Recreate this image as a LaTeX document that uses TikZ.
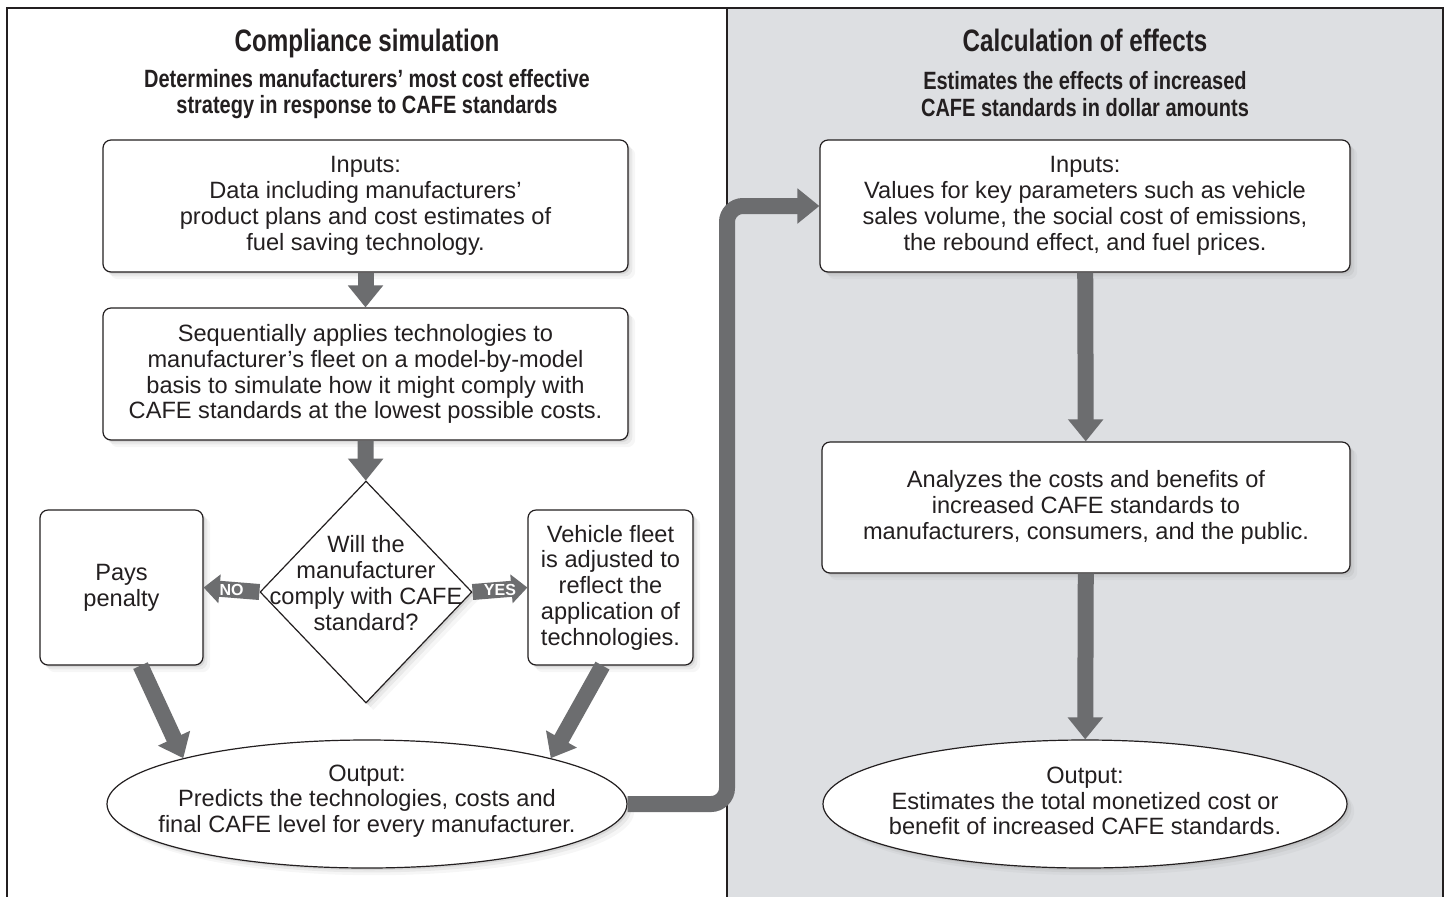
\documentclass[tikz,border=0pt]{standalone}
\usepackage{fontspec}
\setmainfont{Liberation Sans}
\newfontfamily\headfont[FakeStretch=0.8]{Liberation Sans}
\newfontfamily\titlefont[FakeStretch=0.78]{Liberation Sans}
\usetikzlibrary{arrows.meta,shapes.geometric,shadows}

\definecolor{panelgray}{RGB}{221,223,226}
\definecolor{arrowgray}{RGB}{108,109,111}
\definecolor{inkgray}{RGB}{35,31,32}
\newcommand{\bodysize}{\fontsize{11.8}{12.9}\selectfont}

\tikzset{
  softshadow/.style={drop shadow={shadow xshift=1pt,shadow yshift=-1pt,opacity=.16},
    drop shadow={shadow xshift=2.2pt,shadow yshift=-2.2pt,opacity=.11},
    drop shadow={shadow xshift=3.6pt,shadow yshift=-3.6pt,opacity=.07}},
  stepbox/.style={draw=inkgray, line width=.6pt, fill=white, rounded corners=4pt,
    align=center, font=\bodysize, text=inkgray, inner sep=0pt, softshadow},
  decision/.style={diamond, draw=inkgray, line width=.6pt, fill=white, inner sep=0pt,
    minimum width=106pt, minimum height=111pt, softshadow},
  outcome/.style={ellipse, draw=inkgray, line width=.6pt, fill=white, inner sep=0pt,
    minimum height=64pt, softshadow},
  textonly/.style={align=center, font=\bodysize, text=inkgray, inner sep=0pt},
  bigarrow/.style={draw=arrowgray, line width=8pt, -{Triangle[width=17pt,length=11pt]}},
  tagarrow/.style={draw=arrowgray, line width=8pt, -{Triangle[width=14pt,length=8pt]}},
  tag/.style={text=white, font=\fontsize{8}{9}\selectfont\bfseries, inner sep=0pt},
  paneltitle/.style={anchor=base, text=inkgray, font=\titlefont\bfseries\fontsize{15.5}{17}\selectfont},
  panelsub/.style={align=center, text=inkgray, inner sep=0pt, font=\headfont\bfseries\fontsize{12.5}{13.2}\selectfont}
}

\begin{document}
\begin{tikzpicture}[x=0.5pt, y=-0.5pt]
\useasboundingbox (0,0) rectangle (1447,896);
\fill[white] (0,0) rectangle (1447,896);

% panels
\fill[panelgray] (727,8) rectangle (1443,900);
\draw[inkgray, line width=1pt] (7,900) -- (7,8) -- (1443,8) -- (1443,900);
\draw[inkgray, line width=.7pt] (727,8) -- (727,900);

% left panel: compliance simulation
\node[paneltitle] (lefttitle) at (367,51) {Compliance simulation};
\node[panelsub] (leftsub) at (367,94) {Determines manufacturers’ most cost effective\\strategy in response to CAFE standards};

\node[stepbox, minimum width=262.5pt, minimum height=66pt] (in1) at (365.5,206)
  {Inputs:\\Data including manufacturers’\\product plans and cost estimates of\\fuel saving technology.};
\node[stepbox, minimum width=262.5pt, minimum height=66pt] (seq) at (365.5,374)
  {Sequentially applies technologies to\\manufacturer’s fleet on a model-by-model\\basis to simulate how it might comply with\\CAFE standards at the lowest possible costs.};

\node[decision] (q) at (366,592) {};
\node[textonly] (qtext) at (366,583) {Will the\\manufacturer\\comply with CAFE\\standard?};

\node[stepbox, minimum width=81.5pt, minimum height=77.5pt] (pay) at (121.5,587.5) {Pays\\penalty};
\node[stepbox, minimum width=82.5pt, minimum height=77.5pt] (veh) at (610.5,587.5)
  {Vehicle fleet\\is adjusted to\\reflect the\\application of\\technologies.};

\node[outcome, minimum width=260pt] (out1) at (367,804) {};
\node[textonly] (out1text) at (367,801) {Output:\\Predicts the technologies, costs and\\final CAFE level for every manufacturer.};

% right panel: calculation of effects
\node[paneltitle] (righttitle) at (1085,51) {Calculation of effects};
\node[panelsub] (rightsub) at (1085,94) {Estimates the effects of increased\\CAFE standards in dollar amounts};

\node[stepbox, minimum width=265pt, minimum height=66pt] (in2) at (1085,206)
  {Inputs:\\Values for key parameters such as vehicle\\sales volume, the social cost of emissions,\\the rebound effect, and fuel prices.};
\node[stepbox, minimum width=264pt, minimum height=65.5pt] (eff) at (1086,507.5)
  {Analyzes the costs and benefits of\\increased CAFE standards to\\manufacturers, consumers, and the public.};

\node[outcome, minimum width=262pt] (out2) at (1085,804) {};
\node[textonly] (out2text) at (1085,801) {Output:\\Estimates the total monetized cost or\\benefit of increased CAFE standards.};

% arrows
\draw[bigarrow] (in1) -- (seq);
\draw[bigarrow] (seq) -- (q);
\draw[tagarrow] (q.west) -- (pay.east) node[tag, midway] (no) {NO};
\draw[tagarrow] (q.east) -- (veh.west) node[tag, midway] (yes) {YES};
\draw[bigarrow] ([xshift=9.5pt]pay.south) -- (out1.166);
\draw[bigarrow] ([xshift=-4pt]veh.south) -- (out1.14);

\draw[bigarrow] (in2) -- (eff);
\draw[bigarrow] (eff) -- (out2);

\coordinate (divtop) at (727,8);
\draw[bigarrow, rounded corners=8pt] (out1.east) -| (divtop |- in2.west) -- (in2.west);
\end{tikzpicture}
\end{document}
